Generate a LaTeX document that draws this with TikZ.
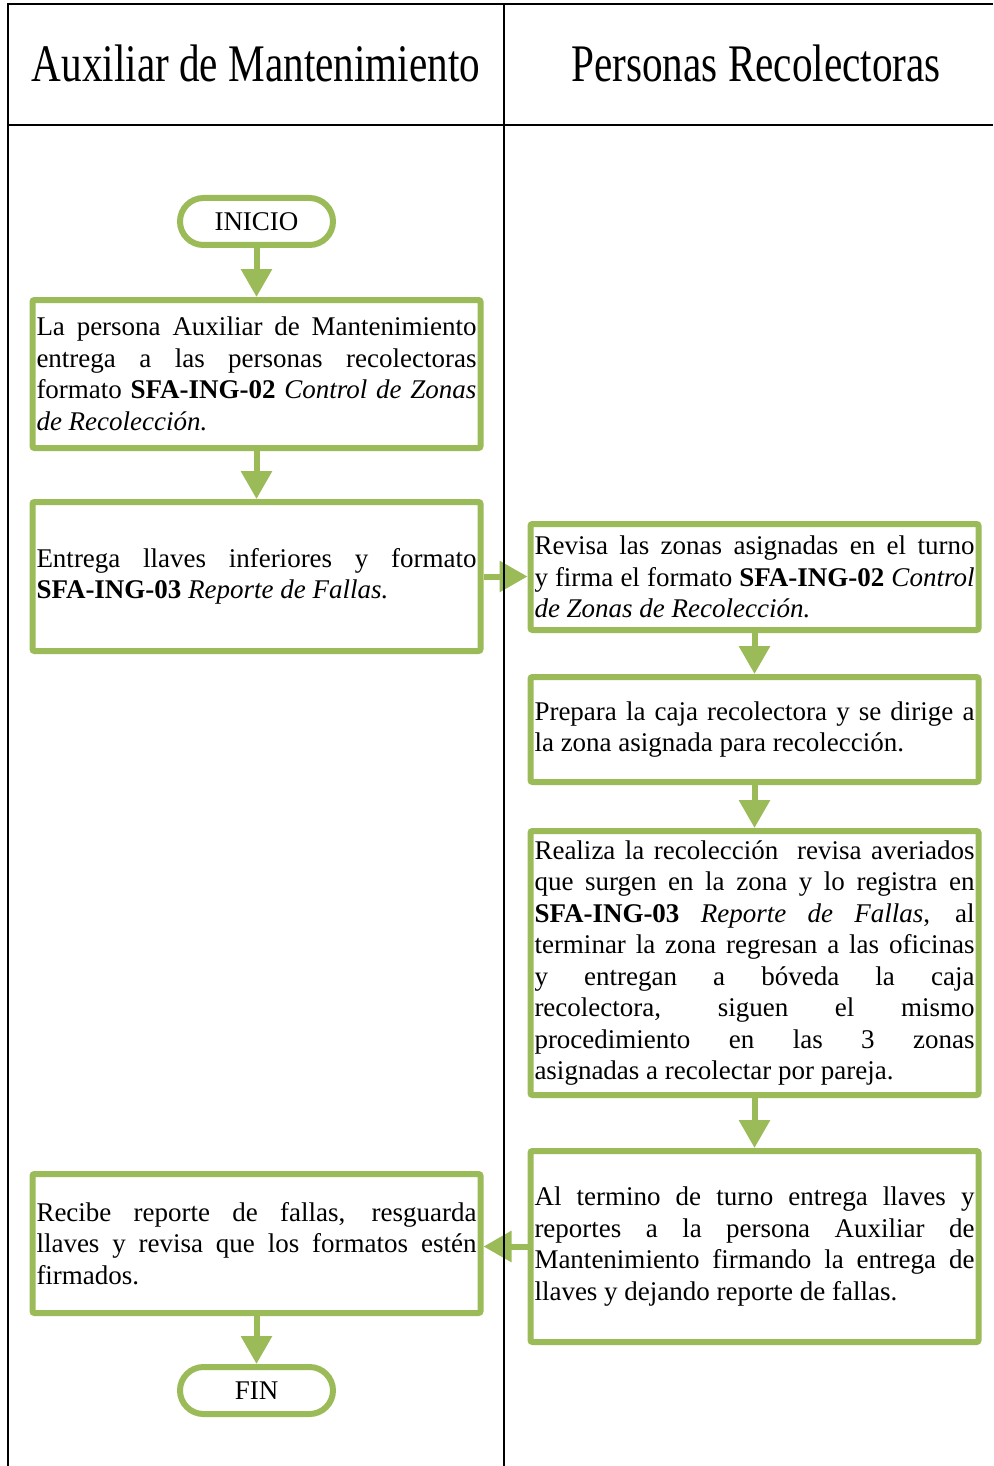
\documentclass[tikz,border=0pt]{standalone}
\usepackage{fontspec}
\setmainfont{Liberation Serif}
\newfontfamily\headfont[FakeStretch=0.78]{Liberation Serif}
\usetikzlibrary{positioning,arrows.meta}
\definecolor{verde}{HTML}{9BBB59}

\begin{document}
\begin{tikzpicture}[x=0.5pt,y=-0.5pt,
    caja/.style={draw=verde, line width=3pt, rounded corners=1pt,
        text width=220pt, inner xsep=2pt, inner ysep=2pt, align=justify,
        font=\fontsize{13.5}{15.75}\selectfont},
    terminal/.style={draw=verde, line width=3pt, rounded corners=11.75pt,
        minimum width=76.5pt, minimum height=23.5pt,
        font=\fontsize{13.5}{15.75}\selectfont},
    flecha/.style={draw=verde, line width=3pt, -{Triangle[width=15pt,length=14pt]}},
    carril/.style={line width=1pt},
    titulo/.style={anchor=base, font=\headfont\fontsize{26.4}{30}\selectfont},
    ]
\useasboundingbox (0,0) rectangle (993,1466);

% titulos
\node[titulo] (aux) at (256,82) {Auxiliar de Mantenimiento};
\node[titulo] (rec) at (756,82) {Personas Recolectoras};

% columna izquierda
\node[terminal] (inicio) at (256.5,221.5) {INICIO};
\node[caja, minimum height=74pt] (paso1) at (256.5,374)
    {La persona Auxiliar de Mantenimiento\linebreak entrega a las personas recolectoras\linebreak formato \textbf{SFA-ING-02} \textit{Control de Zonas\linebreak de Recolección.}};
\node[caja, minimum height=74.5pt] (paso2) at (256.5,576.5)
    {Entrega llaves inferiores y formato\linebreak \textbf{SFA-ING-03} \textit{Reporte de Fallas.}};

% columna derecha
\node[caja, minimum height=53pt] (paso3) at (754.5,577)
    {Revisa las zonas asignadas en el turno\linebreak y firma el formato \textbf{SFA-ING-02} \textit{Control\linebreak de Zonas de Recolección.}};
\node[caja, minimum height=52.5pt] (paso4) at (754.5,729.5)
    {Prepara la caja recolectora y se dirige a\linebreak la zona asignada para recolección.};
\node[caja, minimum height=132pt] (paso5) at (754.5,963)
    {Realiza la recolección\ \ revisa averiados\linebreak que surgen en la zona y lo registra en\linebreak \textbf{SFA-ING-03} \textit{Reporte de Fallas}, al\linebreak terminar la zona regresan a las oficinas\linebreak y entregan a bóveda la caja\linebreak recolectora, siguen el mismo\linebreak procedimiento en las 3 zonas\linebreak asignadas a recolectar por pareja.};
\node[caja, minimum height=95.5pt] (paso6) at (754.5,1246.5)
    {Al termino de turno entrega llaves y\linebreak reportes a la persona Auxiliar de\linebreak Mantenimiento firmando la entrega de\linebreak llaves y dejando reporte de fallas.};

% cierre
\node[caja, minimum height=69.5pt] (paso7) at (256.5,1243.5)
    {Recibe reporte de fallas, resguarda\linebreak llaves y revisa que los formatos estén\linebreak firmados.};
\node[terminal] (fin) at (256.5,1390.5) {FIN};

\foreach \a/\b in {inicio/paso1, paso1/paso2, paso3/paso4, paso4/paso5, paso5/paso6, paso7/fin}
    \draw[flecha] (\a) -- (\b);
\draw[flecha] (paso2.east) -- (paso2.east -| paso3.west);
\draw[flecha] (paso6.west) -- (paso6.west -| paso7.east);

% carriles
\draw[carril] (8,1466) -- (8,4) -- (993,4);
\draw[carril] (504,4) -- (504,1466);
\draw[carril] (8,125) -- (993,125);

\end{tikzpicture}
\end{document}
